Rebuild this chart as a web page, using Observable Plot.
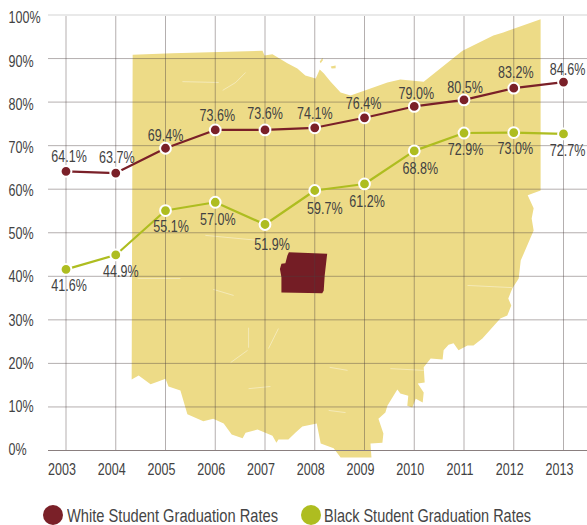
<!DOCTYPE html>
<html>
<head>
<meta charset="utf-8">
<script src="https://cdn.jsdelivr.net/npm/d3@7"></script>
<script src="https://cdn.jsdelivr.net/npm/@observablehq/plot@0.6"></script>
<style>
html,body{margin:0;padding:0;background:#fff;overflow:hidden}
#chart svg{display:block}
#legend{position:relative;height:35px;width:587px;font-family:"Liberation Sans",sans-serif;font-size:18.5px;color:#454545}
#legend .d{position:absolute;top:15px;width:20px;height:20px;border-radius:50%}
#legend .t{position:absolute;top:15px;line-height:22px;white-space:nowrap;transform-origin:0 50%}
</style>
</head>
<body>
<div id="chart"></div>
<div id="legend"></div>
<script>
const years = [2003,2004,2005,2006,2007,2008,2009,2010,2011,2012,2013];
const whiteRates = [64.1,63.7,69.4,73.6,73.6,74.1,76.4,79.0,80.5,83.2,84.6];
const blackRates = [41.6,44.9,55.1,57.0,51.9,59.7,61.2,68.8,72.9,73.0,72.7];
const yTicks = [0,10,20,30,40,50,60,70,80,90,100];
const seriesNames = ["White Student Graduation Rates","Black Student Graduation Rates"];

// Backdrop map of Ohio, expressed in the chart's own units (year, percent)
const ohioYear = [2004.34,2005.14,2006.95,2006.99,2007.15,2007.45,2007.65,2007.81,2008.02,2008.10,2008.18,2008.32,2008.52,2008.72,2009.12,2009.46,2009.72,2010.19,2010.73,2010.97,2011.59,2011.79,2012.54,2012.54,2012.28,2012.40,2012.36,2012.40,2012.14,2012.10,2011.97,2011.89,2011.95,2011.87,2011.73,2011.37,2011.19,2011.07,2010.89,2010.79,2010.69,2010.59,2010.57,2010.33,2010.19,2010.21,2010.07,2010.19,2010.17,2010.03,2009.96,2009.86,2009.88,2009.72,2009.66,2009.46,2009.42,2009.28,2009.38,2009.36,2009.12,2009.14,2008.52,2008.38,2008.12,2008.04,2007.75,2007.61,2007.47,2007.27,2007.23,2007.15,2006.85,2006.61,2006.55,2006.33,2006.17,2005.96,2005.76,2005.44,2005.30,2005.06,2005.00,2004.84,2004.70,2004.46,2004.32];
const ohioPct = [90.9,91.2,91.8,90.7,91.0,88.9,87.7,86.1,85.4,87.5,86.6,84.7,82.2,81.5,83.1,84.5,85.2,84.7,89.6,91.8,95.3,96.0,99.0,59.7,58.6,55.6,53.3,50.5,43.6,39.5,37.2,34.9,33.3,31.0,30.3,25.7,24.1,24.1,23.0,24.6,24.3,23.0,20.9,21.1,19.1,15.6,15.4,13.3,11.0,11.9,9.9,10.3,12.6,13.1,14.0,10.3,8.7,7.3,3.9,1.8,1.6,-1.6,-1.6,0.5,1.6,6.2,5.5,4.1,2.5,2.5,1.8,3.4,4.8,4.1,2.8,3.7,6.2,7.3,6.7,8.3,13.8,14.7,16.5,15.8,15.2,17.2,16.3];
const islandOneYear = [2008.32,2008.42,2008.42,2008.34];
const islandOnePct = [88.2,88.4,87.8,87.7];
const islandTwoYear = [2008.10,2008.16,2008.16,2008.12];
const islandTwoPct = [89.3,90.2,89.6,88.9];
const countyYear = [2007.48,2008.25,2008.20,2008.18,2008.15,2007.33,2007.33,2007.30,2007.33,2007.41,2007.45];
const countyPct = [45.5,45.2,40.2,36.7,36.1,36.3,39.8,41.7,42.9,43.0,44.8];
// Pale seams between the map's counties: [year1, pct1, year2, pct2]
const seams = [
  [2005.34,84.7,2006.07,84.5],[2006.15,82.7,2006.41,84.5],[2006.41,84.5,2006.61,86.8],
  [2005.80,49.4,2006.91,48.2],[2004.44,39.5,2005.30,39.5],[2006.67,14.2,2007.11,14.7],
  [2011.07,37.9,2011.97,37.4],[2009.52,18.8,2010.19,18.4],[2008.30,19.1,2008.66,18.4],
  [2008.28,9.2,2008.62,8.7],[2005.96,37.0,2006.37,35.6],[2006.31,20.2,2006.65,23.0],
  [2007.07,23.4,2007.27,28.0],[2006.67,28.2,2006.67,23.6]
];

// Label nudges in pixels, one per year or tick
const whiteNudgeX = [3,1,0,2,0,0,-1,2,1,2,4];
const whiteNudgeY = [-15,-15,-12.5,-14.5,-16,-14,-14.5,-13,-12.5,-15,-12.5];
const blackNudgeX = [3,5,5.5,2.5,7,10,2.5,6,1.5,1.5,4];
const blackNudgeY = [16,16.5,16,17,20,18,17.5,18,16.5,15.7,16.6];
const yTickNudge = [-1,0,0,1,0,1,2,2,3,3,3];

const RED = "#7a2028", GREEN = "#aebd20", MAP = "#eddb87", INK = "#424242";
const FONT = '"Liberation Sans",sans-serif';

const zipPts = (xs, ys) => xs.map((x, i) => ({x, y: ys[i]}));
const shape = (xs, ys, fill) => Plot.line(zipPts(xs, ys), {x:"x", y:"y", fill, stroke:"none", curve:"linear-closed"});
const series = (vals, color) => {
  const pts = zipPts(years, vals);
  return [
    Plot.line(pts, {x:"x", y:"y", stroke:color, strokeWidth:2.2}),
    Plot.dot(pts, {x:"x", y:"y", r:5.4, fill:color, stroke:"#fff", strokeWidth:2})
  ];
};
const labels = (vals, nx, ny) => vals.map((v, i) => Plot.text([{x:years[i], y:v}], {
  x:"x", y:"y", text:d => d.y.toFixed(1) + "%", dx:nx[i], dy:ny[i],
  fontSize:16.5, fill:INK
}));

const chart = Plot.plot({
  width:587, height:490,
  marginLeft:48, marginRight:0, marginTop:15, marginBottom:40,
  style:{fontFamily:FONT, background:"#fff"},
  x:{type:"linear", domain:[2003,2013], range:[65.5,563]},
  y:{domain:[0,100], range:[450,14.5]},
  marks:[
    shape(ohioYear, ohioPct, MAP),
    shape(islandOneYear, islandOnePct, MAP),
    shape(islandTwoYear, islandTwoPct, MAP),
    Plot.link(seams, {x1:d=>d[0], y1:d=>d[1], x2:d=>d[2], y2:d=>d[3], stroke:"#fff", strokeOpacity:0.4, strokeWidth:1}),
    shape(countyYear, countyPct, "#741d25"),
    Plot.ruleX(years, {y1:0, y2:100, stroke:"#4c4040", strokeOpacity:0.42, strokeWidth:1}),
    Plot.ruleY(yTicks.filter(t => t > 0 && t < 100), {stroke:"#4c4040", strokeOpacity:0.42, strokeWidth:1}),
    Plot.ruleY([100], {stroke:"#e9e9e9", strokeWidth:2}),
    Plot.ruleY([0], {stroke:"#8a7f7f", strokeWidth:1}),
    ...yTicks.map((t, i) => Plot.axisY([t], {anchor:"left", tickSize:0, tickPadding:0, textAnchor:"start", dx:-40, dy:yTickNudge[i], fontSize:16.5, fill:INK, tickFormat:d => d + "%", label:null})),
    Plot.axisX(years, {anchor:"bottom", tickSize:0, tickPadding:0, dx:-4, dy:13, fontSize:16.5, fill:INK, tickFormat:"d", label:null}),
    ...series(whiteRates, RED),
    ...series(blackRates, GREEN),
    ...labels(whiteRates, whiteNudgeX, whiteNudgeY),
    ...labels(blackRates, blackNudgeX, blackNudgeY)
  ]
});
document.getElementById("chart").appendChild(chart);

// The reference's type is condensed: squeeze the installed face about each text's anchor
const SQUEEZE = 0.76;
chart.querySelectorAll("text").forEach(t => {
  const box = t.getBoundingClientRect();
  const start = getComputedStyle(t).textAnchor === "start";
  const anchor = (start ? box.left : box.left + box.width / 2) - t.parentNode.getScreenCTM().e;
  const old = t.getAttribute("transform") || "";
  t.setAttribute("transform", `translate(${anchor},0) scale(${SQUEEZE},1) translate(${-anchor},0) ${old}`);
});

const legend = document.getElementById("legend");
[[43,67,RED,211],[301,324,GREEN,207]].forEach(([dx,tx,c,w], i) => {
  const d = document.createElement("span"); d.className="d"; d.style.left=dx+"px"; d.style.background=c; legend.appendChild(d);
  const t = document.createElement("span"); t.className="t"; t.style.left=tx+"px"; t.textContent=seriesNames[i]; legend.appendChild(t);
  t.style.transform = `scaleX(${w / t.getBoundingClientRect().width})`;
});
</script>
</body>
</html>
